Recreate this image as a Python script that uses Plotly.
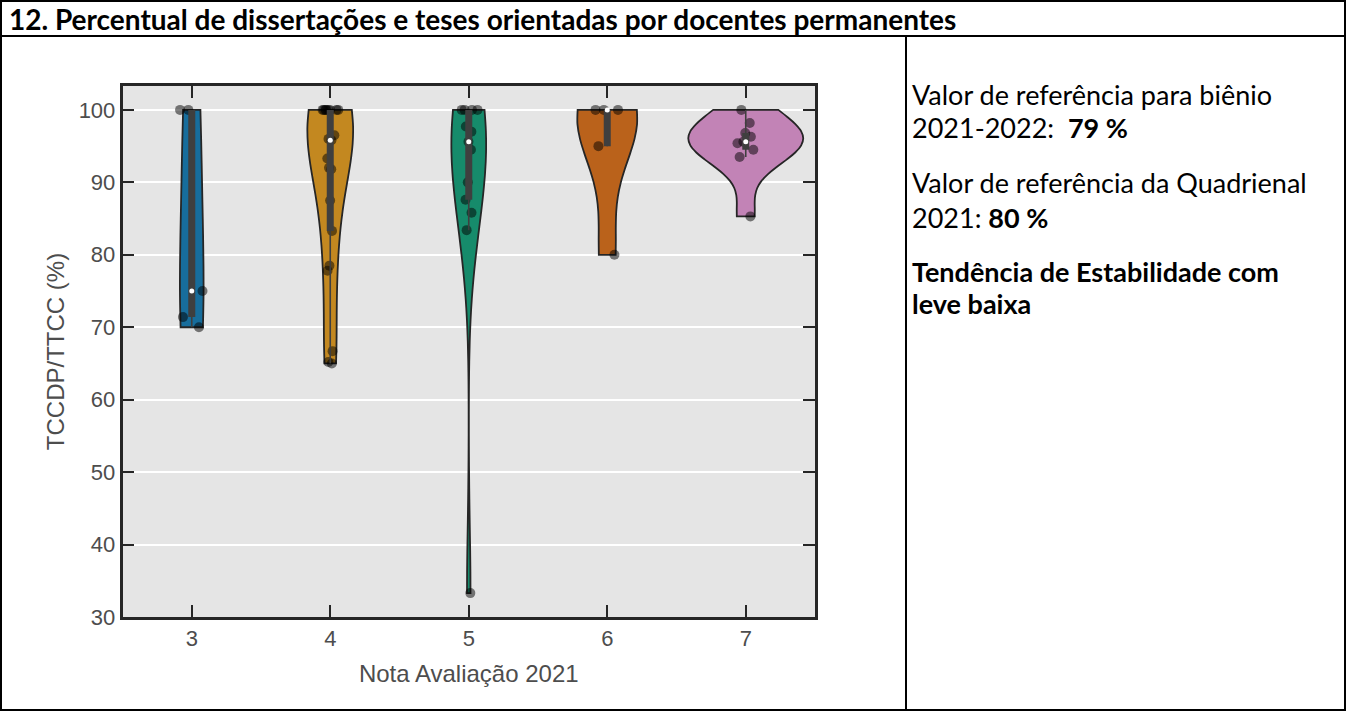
import numpy as np
import plotly.graph_objects as go

# ---------------- data ----------------
categories = [3, 4, 5, 6, 7]
tick_labels = ["3", "4", "5", "6", "7"]
g3 = [70.0, 71.4, 75.0, 100.0, 100.0]
g4 = [65.0, 65.2, 66.7, 77.8, 78.5, 83.3, 87.5, 91.8, 92.0, 93.3, 95.8, 96.0, 96.5,
      100.0, 100.0, 100.0, 100.0, 100.0, 100.0, 100.0, 100.0]
g5 = [33.3, 83.4, 85.8, 87.6, 90.0, 94.5, 95.6, 97.0, 97.7, 100.0, 100.0, 100.0, 100.0]
g6 = [80.0, 95.0, 100.0, 100.0, 100.0]
g7 = [85.3, 93.5, 94.5, 95.4, 95.6, 96.3, 96.8, 98.2, 100.0]
groups = [g3, g4, g5, g6, g7]
y_ticks = [30, 40, 50, 60, 70, 80, 90, 100]

# ---------------- style ----------------
colors = ["#176d9c", "#c38820", "#168b6b", "#ba621b", "#c283b6"]
violin_widths = [0.17, 0.33, 0.25, 0.43, 0.83]
bandwidths = [14, 7, 9, 6, 3.0]
W, H = 1346, 711
x_left, x_right = 122.5, 815
y_top, y_bot = 86, 617
axis_col = "#262626"
text_col = "#4d4d4d"
ax_font = "Liberation Sans, Arial, sans-serif"
doc_font = "Lato, Carlito, Calibri, sans-serif"

fig = go.Figure()

for pos, data, col, w, bw in zip(categories, groups, colors, violin_widths, bandwidths):
    fig.add_trace(go.Violin(
        y=data, x0=pos, name=str(pos), width=w, bandwidth=bw,
        spanmode="hard", scalemode="width", points=False,
        fillcolor=col, opacity=1, line=dict(color=axis_col, width=1.8),
        box_visible=False, meanline_visible=False, showlegend=False,
        hoverinfo="skip"))

# inner box (seaborn style)
for pos, data in zip(categories, groups):
    arr = np.array(data)
    q1, med, q3 = np.percentile(arr, [25, 50, 75])
    iqr = q3 - q1
    lo = arr[arr >= q1 - 1.5 * iqr].min()
    hi = arr[arr <= q3 + 1.5 * iqr].max()
    fig.add_trace(go.Scatter(x=[pos, pos], y=[lo, hi], mode="lines",
                             line=dict(color="#3f3f3f", width=1.6),
                             showlegend=False, hoverinfo="skip"))
    fig.add_trace(go.Scatter(x=[pos, pos], y=[q1, q3], mode="lines",
                             line=dict(color="#3f3f3f", width=7),
                             showlegend=False, hoverinfo="skip"))
    fig.add_trace(go.Scatter(x=[pos], y=[med], mode="markers",
                             marker=dict(color="white", size=5),
                             showlegend=False, hoverinfo="skip"))

# strip points
for pos, data in zip(categories, groups):
    fig.add_trace(go.Box(
        y=data, x0=pos, width=0.2, boxpoints="all", jitter=1, pointpos=0,
        fillcolor="rgba(0,0,0,0)", line=dict(color="rgba(0,0,0,0)", width=0),
        marker=dict(color="rgba(0,0,0,0.5)", size=10, line=dict(width=0)),
        showlegend=False, hoverinfo="skip"))

fig.update_layout(
    width=W, height=H, margin=dict(l=0, r=0, t=0, b=0, autoexpand=False),
    paper_bgcolor="white", plot_bgcolor="#e5e5e5",
    showlegend=False, boxmode="overlay", violinmode="overlay",
    xaxis=dict(domain=[x_left / W, x_right / W], range=[2.5, 7.5],
               automargin=False,
               tickvals=categories, ticktext=tick_labels,
               ticks="inside", ticklen=12, tickwidth=2, tickcolor=axis_col,
               showline=True, linecolor=axis_col, linewidth=2.5, mirror="ticks",
               showgrid=False, zeroline=False,
               tickfont=dict(family=ax_font, size=22, color=text_col),
               title=dict(text="Nota Avaliação 2021", standoff=16,
                          font=dict(family=ax_font, size=24, color=text_col))),
    yaxis=dict(domain=[1 - y_bot / H, 1 - y_top / H], range=[30, 103.3],
               automargin=False,
               tickvals=y_ticks, ticks="inside", ticklen=12, tickwidth=2,
               tickcolor=axis_col, showline=True, linecolor=axis_col,
               linewidth=2.5, mirror="ticks", showgrid=True,
               gridcolor="white", gridwidth=2, zeroline=False,
               tickfont=dict(family=ax_font, size=22, color=text_col),
               title=dict(text="TCCDP/TTCC (%)", standoff=8,
                          font=dict(family=ax_font, size=24, color=text_col))),
)

# table lines
lw = 2
def px(x):
    return x / W
def py(y):
    return 1 - y / H
shapes = [
    dict(type="rect", x0=px(1), x1=px(W - 1), y0=py(1), y1=py(H - 1)),
    dict(type="line", x0=px(1), x1=px(W - 1), y0=py(36), y1=py(36)),
    dict(type="line", x0=px(906), x1=px(906), y0=py(36), y1=py(H - 1)),
]
for s in shapes:
    s.update(xref="paper", yref="paper", line=dict(color="black", width=lw))
    fig.add_shape(**s)

fig.add_annotation(x=px(7), y=py(19), xref="paper", yref="paper",
                   xanchor="left", yanchor="middle", showarrow=False,
                   text="<b>12. Percentual de dissertações e teses orientadas por docentes permanentes</b>",
                   font=dict(family=doc_font, size=28, color="black"))

right_lines = [
    (95, "Valor de referência para biênio"),
    (128, "2021-2022:  <b>79 %</b>"),
    (183, "Valor de referência da Quadrienal"),
    (217, "2021: <b>80 %</b>"),
    (271, "<b>Tendência de Estabilidade com</b>"),
    (304, "<b>leve baixa</b>"),
]
for yy, txt in right_lines:
    fig.add_annotation(x=px(910), y=py(yy), xref="paper", yref="paper",
                       xanchor="left", yanchor="middle", showarrow=False,
                       text=txt, font=dict(family=doc_font, size=27, color="black"))

fig.write_html("out.html", config={"displayModeBar": False},
               post_script="document.body.style.margin='0px';")
